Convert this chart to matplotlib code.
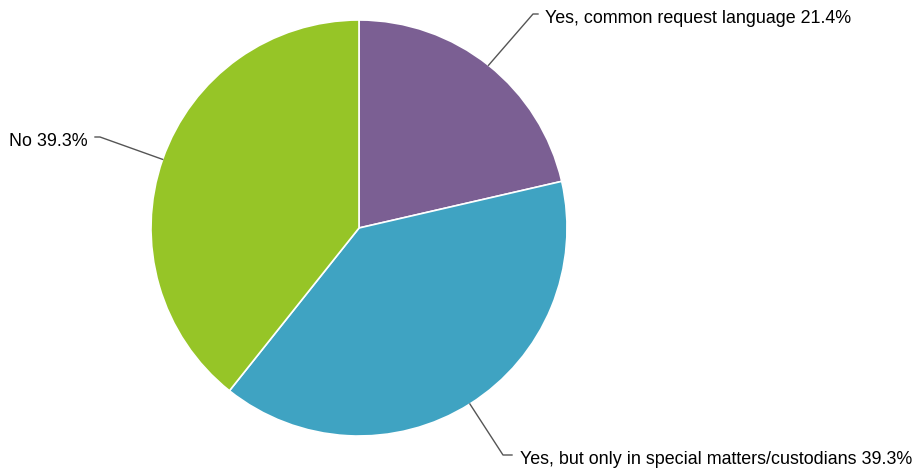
import numpy as np
import matplotlib
matplotlib.use("Agg")
import matplotlib.pyplot as plt

plt.rcParams['font.family'] = ['Liberation Sans', 'DejaVu Sans']

labels = ["Yes, common request language", "Yes, but only in special matters/custodians", "No"]
shares = [21.4, 39.3, 39.3]
colors = ["#7b5f93", "#3fa3c2", "#96c527"]

# figure is laid out in pixel coordinates (921 x 474, origin bottom-left)
W, H = 921, 474
fig = plt.figure(figsize=(W / 100, H / 100), dpi=100)
ax = fig.add_axes([0, 0, 1, 1])

cx, cy, r = 359, 246, 208
wedges, _ = ax.pie(shares, colors=colors, startangle=90, counterclock=False,
                   center=(cx, cy), radius=r,
                   wedgeprops=dict(edgecolor="white", linewidth=1.2))

# label anchors: (elbow x, elbow y, end x, text x, ha)
anchors = [
    (533, H - 14, 538, 545, "left"),
    (503, H - 455, 512, 520, "left"),
    (100, H - 137, 95, 88, "right"),
]

for w, lab, val, (ex, ey, hx, tx, ha) in zip(wedges, labels, shares, anchors):
    mid = np.deg2rad((w.theta1 + w.theta2) / 2)
    px, py = cx + r * np.cos(mid), cy + r * np.sin(mid)
    ax.plot([px, ex, hx], [py, ey, ey], color="#555555", lw=1)
    # text baseline sits a bit below the leader's horizontal stub
    ax.text(tx, ey - 9, f"{lab} {val}%", ha=ha, va="baseline", fontsize=12.9, color="black")

ax.set_xlim(0, W)
ax.set_ylim(0, H)
ax.set_aspect("equal")
ax.axis("off")

fig.savefig("out.png", dpi=100)
